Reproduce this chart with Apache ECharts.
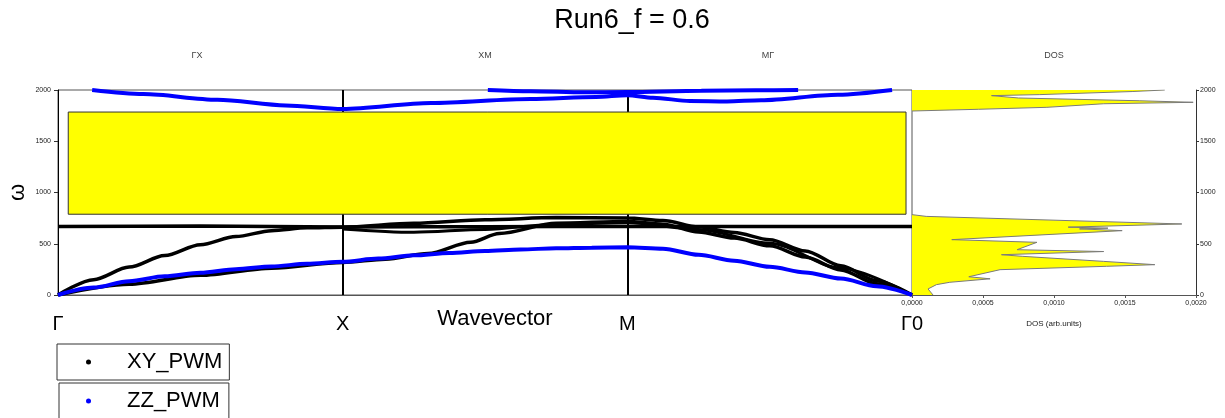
<!DOCTYPE html>
<html>
<head>
<meta charset="utf-8">
<script src="https://cdn.jsdelivr.net/npm/echarts@6/dist/echarts.min.js"></script>
<style>
html,body{margin:0;padding:0;background:#fff;}
#chart{width:1225px;height:418px;}
</style>
</head>
<body>
<div id="chart"></div>
<script>
// ---------- data ----------
const chartTitle = 'Run6_f = 0.6';
const panelTitles = ['ΓX', 'XM', 'MΓ', 'DOS'];
const kTicks = [0, 1, 2, 3];
const kLabels = ['Γ', 'X', 'M', 'Γ0'];
const seriesNames = ['XY_PWM', 'ZZ_PWM'];
// band gap box: [k start, k end, ω low, ω high]
const gapBox = [0.036, 2.979, 788, 1785];

// XY_PWM bands  [k, ω]
const xyFlat = [[0,669],[0.5,672],[1,664],[1.5,667],[2,668],[2.5,669],[3,668]];
const xyB2 = [[0,0],[0.125,150],[0.25,272],[0.375,385],[0.5,490],[0.625,570],[0.75,628],[0.875,655],[1,662],
              [1.25,700],[1.5,735],[1.75,755],[2,752],
              [2.125,728],[2.25,665],[2.375,610],[2.5,540],[2.625,430],[2.75,285],[2.875,140],[3,0]];
const xyB3 = [[0,0],[0.25,105],[0.5,192],[0.75,262],[1,318],
              [1.15,350],[1.3,405],[1.45,515],[1.55,600],[1.75,700],[2,718],
              [2.125,690],[2.25,615],[2.375,555],[2.5,480],[2.625,370],[2.75,245],[2.875,110],[3,0]];
const xyB4 = [[1,645],[1.25,612],[1.5,640],[1.75,690],[2,705],
              [2.25,640],[2.5,505],[2.75,262],[3,0]];

// ZZ_PWM bands  [k, ω]
const zzB1 = [[0,0],[0.125,72],[0.25,135],[0.375,182],[0.5,217],[0.625,252],[0.75,279],[0.875,304],[1,325],
              [1.125,355],[1.25,387],[1.375,410],[1.5,430],[1.625,445],[1.75,455],[1.875,462],[2,465],
              [2.125,452],[2.25,392],[2.375,335],[2.5,275],[2.625,220],[2.75,160],[2.875,85],[3,0]];
const zzB2 = [[0.12,2000],[0.3,1960],[0.56,1905],[0.8,1850],[1,1815],
              [1.31,1873],[1.66,1912],[1.89,1932],[2,1950],
              [2.09,1925],[2.22,1892],[2.35,1888],[2.47,1900],[2.74,1954],[2.93,2000]];
const zzB3 = [[1.51,2000],[1.66,1988],[1.85,1978],[2,1980],
              [2.26,1993],[2.45,1998],[2.6,2000]];

// DOS outline [DOS, ω]
const dosLow = [[0.000148,0],[0.000113,59],[0.000172,101],[0.000266,124],[0.00055,158],[0.00040,178],
                [0.00062,247],[0.00137,280],[0.00171,296],[0.00135,328],[0.00078,377],[0.00063,393],
                [0.00135,424],[0.00074,442],[0.00088,514],[0.00028,540],[0.00148,628],[0.00118,645],
                [0.00138,652],[0.00110,662],[0.00190,693],[0.00010,767],[0,784]];
const dosHigh = [[0,1795],[0.00047,1812],[0.00095,1831],[0.00135,1866],[0.00198,1880],[0.00160,1895],
                 [0.00075,1922],[0.00056,1945],[0.00090,1955],[0.00155,1985],[0.00178,2000]];

// ---------- chart ----------
const FONT = '"Liberation Sans", Arial, sans-serif';
const chart = echarts.init(document.getElementById('chart'));
const panelX = [197, 485, 768, 1054];

function bandSeries(name, data, color, width, extra) {
  return Object.assign({
    name: name, type: 'line', xAxisIndex: 0, yAxisIndex: 0,
    data: data, symbol: 'circle', showSymbol: false, smooth: 0.3, smoothMonotone: 'x',
    lineStyle: {color: color, width: width}, itemStyle: {color: color},
    emphasis: {disabled: true}, silent: true, z: 3
  }, extra || {});
}

const option = {
  animation: false,
  backgroundColor: '#fff',
  textStyle: {fontFamily: FONT},
  title: [{text: chartTitle, left: 632, top: 7, padding: 0, textAlign: 'center',
           textStyle: {fontSize: 27, fontWeight: 'normal', color: '#000', fontFamily: FONT}}]
    .concat(panelTitles.map((t, i) => ({
      text: t, left: panelX[i], top: 51, padding: 0, textAlign: 'center',
      textStyle: {fontSize: 9, fontWeight: 'normal', color: '#444', fontFamily: FONT}
    }))),
  legend: seriesNames.map((n, i) => ({
    data: [{name: n, icon: 'circle'}],
    left: i === 0 ? 57 : 59, top: i === 0 ? 344 : 383,
    itemWidth: 5, itemHeight: 5, itemGap: 0,
    padding: [7, i === 0 ? 7 : 9, 7, i === 0 ? 29 : 27], borderColor: '#333', borderWidth: 1,
    selectedMode: false,
    formatter: '{t|{name}}',
    textStyle: {fontSize: 22, color: '#000', fontFamily: FONT,
                rich: {t: {fontSize: 22, color: '#000', fontFamily: FONT, padding: [0, 0, 0, 31]}}}
  })),
  grid: [
    {left: 58, top: 90, width: 854, height: 205, show: true, borderColor: '#555', borderWidth: 1,
     backgroundColor: 'transparent', outerBoundsMode: 'none', containLabel: false},
    {left: 912, top: 90, width: 284, height: 205, show: false, outerBoundsMode: 'none', containLabel: false}
  ],
  xAxis: [
    {gridIndex: 0, type: 'value', min: 0, max: 3, interval: 1,
     name: 'Wavevector', nameLocation: 'middle', nameGap: 13, nameMoveOverlap: false,
     nameTextStyle: {fontSize: 22, color: '#000', padding: [0, 0, 0, 20], fontFamily: FONT},
     axisLine: {show: true, onZero: false, lineStyle: {color: '#555', width: 1}},
     axisTick: {show: false},
     axisLabel: {show: true, fontSize: 20, color: '#000', margin: 19, fontFamily: FONT,
                 showMinLabel: true, showMaxLabel: true,
                 formatter: v => { const i = kTicks.indexOf(Math.round(v)); return i >= 0 ? kLabels[i] : ''; }},
     splitLine: {show: true, showMinLine: false, showMaxLine: false, lineStyle: {color: '#000', width: 2}}},
    {gridIndex: 1, type: 'value', min: 0, max: 0.002, interval: 0.0005,
     name: 'DOS (arb.units)', nameLocation: 'middle', nameGap: 25, nameMoveOverlap: false,
     nameTextStyle: {fontSize: 8, color: '#222', fontFamily: FONT},
     axisLine: {show: true, onZero: false, lineStyle: {color: '#555', width: 1}},
     axisTick: {show: true, length: 3, lineStyle: {color: '#555'}},
     axisLabel: {fontSize: 7, color: '#222', margin: 5, showMinLabel: true, showMaxLabel: true, fontFamily: FONT,
                 formatter: v => v.toFixed(4).replace('.', ',')},
     splitLine: {show: false}}
  ],
  yAxis: [
    {gridIndex: 0, type: 'value', min: 0, max: 2000, interval: 500,
     name: 'ω', nameLocation: 'middle', nameGap: 29, nameMoveOverlap: false,
     nameTextStyle: {fontSize: 22, color: '#000', fontFamily: FONT},
     axisLine: {show: true, onZero: false, lineStyle: {color: '#000', width: 1}},
     axisTick: {show: true, length: 4, lineStyle: {color: '#333'}},
     axisLabel: {fontSize: 7, color: '#222', margin: 7, fontFamily: FONT, formatter: v => String(v)},
     splitLine: {show: false}},
    {gridIndex: 1, type: 'value', min: 0, max: 2000, interval: 500, position: 'right',
     axisLine: {show: true, onZero: false, lineStyle: {color: '#333', width: 1}},
     axisTick: {show: true, length: 3, lineStyle: {color: '#333'}},
     axisLabel: {fontSize: 7, color: '#222', margin: 4, fontFamily: FONT, formatter: v => String(v)},
     splitLine: {show: false}}
  ],
  series: [
    bandSeries(seriesNames[0], xyFlat, '#000', 3.5, {
      markArea: {silent: true, z: 2,
        itemStyle: {color: '#ffff00', borderColor: '#333', borderWidth: 1},
        data: [[{coord: [gapBox[0], gapBox[3]]}, {coord: [gapBox[1], gapBox[2]]}]]}
    }),
    bandSeries(seriesNames[0], xyB2, '#000', 3.5),
    bandSeries(seriesNames[0], xyB3, '#000', 3.5),
    bandSeries(seriesNames[0], xyB4, '#000', 3),
    bandSeries(seriesNames[1], zzB1, '#0000ff', 4),
    bandSeries(seriesNames[1], zzB2, '#0000ff', 4),
    bandSeries(seriesNames[1], zzB3, '#0000ff', 4),
    {
      name: 'dosFill', type: 'custom', xAxisIndex: 1, yAxisIndex: 1, silent: true, z: 1,
      data: [[0, 0]],
      renderItem: function (params, api) {
        const children = [dosLow, dosHigh].map(arr => {
          const pts = [[0, arr[0][1]]].concat(arr, [[0, arr[arr.length - 1][1]]]).map(p => api.coord(p));
          return {type: 'polygon', shape: {points: pts}, style: {fill: '#ffff00', stroke: null}};
        });
        return {type: 'group', children: children};
      }
    },
    {name: 'dosLine1', type: 'line', xAxisIndex: 1, yAxisIndex: 1, data: dosLow, symbol: 'none',
     lineStyle: {color: '#7a7a7a', width: 1}, silent: true, z: 2},
    {name: 'dosLine2', type: 'line', xAxisIndex: 1, yAxisIndex: 1, data: dosHigh, symbol: 'none',
     lineStyle: {color: '#7a7a7a', width: 1}, silent: true, z: 2}
  ]
};
chart.setOption(option);
</script>
</body>
</html>
